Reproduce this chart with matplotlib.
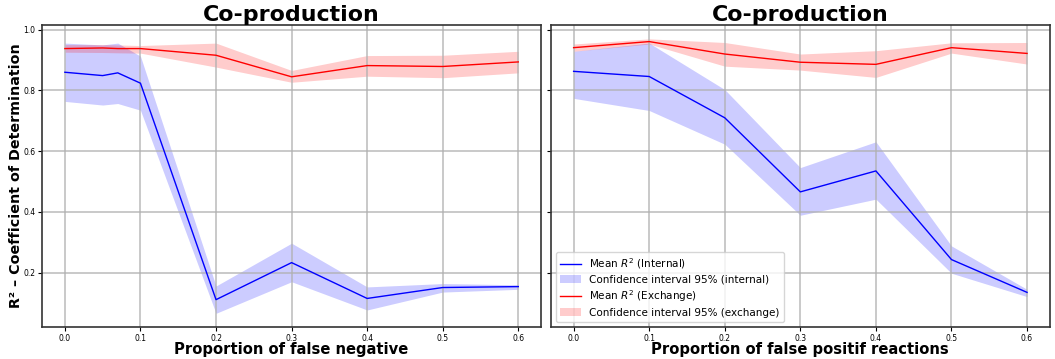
import numpy as np
import matplotlib.pyplot as plt

# left panel: false negatives
x_fn = [0.0, 0.05, 0.07, 0.1, 0.2, 0.3, 0.4, 0.5, 0.6]
int_fn_mean = [0.860, 0.849, 0.858, 0.824, 0.111, 0.233, 0.115, 0.151, 0.154]
int_fn_low = [0.764, 0.752, 0.757, 0.735, 0.066, 0.170, 0.077, 0.136, 0.145]
int_fn_high = [0.956, 0.950, 0.956, 0.913, 0.156, 0.297, 0.153, 0.164, 0.160]
exc_fn_mean = [0.938, 0.940, 0.938, 0.938, 0.916, 0.845, 0.882, 0.879, 0.894]
exc_fn_low = [0.926, 0.925, 0.924, 0.923, 0.877, 0.827, 0.847, 0.842, 0.858]
exc_fn_high = [0.951, 0.951, 0.950, 0.948, 0.956, 0.866, 0.915, 0.916, 0.929]

# right panel: false positive reactions
x_fp = [0.0, 0.1, 0.2, 0.3, 0.4, 0.5, 0.6]
int_fp_mean = [0.863, 0.846, 0.710, 0.466, 0.535, 0.243, 0.135]
int_fp_low = [0.774, 0.734, 0.623, 0.389, 0.442, 0.198, 0.121]
int_fp_high = [0.929, 0.956, 0.803, 0.546, 0.631, 0.288, 0.145]
exc_fp_mean = [0.941, 0.961, 0.920, 0.893, 0.886, 0.941, 0.922]
exc_fp_low = [0.929, 0.953, 0.880, 0.867, 0.843, 0.923, 0.887]
exc_fp_high = [0.953, 0.970, 0.958, 0.920, 0.931, 0.957, 0.958]

panels = [
    (x_fn, int_fn_mean, int_fn_low, int_fn_high, exc_fn_mean, exc_fn_low, exc_fn_high,
     'Proportion of false negative'),
    (x_fp, int_fp_mean, int_fp_low, int_fp_high, exc_fp_mean, exc_fp_low, exc_fp_high,
     'Proportion of false positif reactions'),
]

fig, axes = plt.subplots(1, 2, figsize=(10.55, 3.59), dpi=100, sharey=True)
fig.subplots_adjust(left=0.040, right=0.995, top=0.930, bottom=0.089, wspace=0.02)

for ax, (x, im, il, ih, em, el, eh, xlab) in zip(axes, panels):
    ax.plot(x, im, color='blue', lw=1, label='Mean $R^2$ (Internal)')
    ax.fill_between(x, il, ih, color='blue', alpha=0.2, lw=0,
                    label='Confidence interval 95% (internal)')
    ax.plot(x, em, color='red', lw=1, label='Mean $R^2$ (Exchange)')
    ax.fill_between(x, el, eh, color='red', alpha=0.2, lw=0,
                    label='Confidence interval 95% (exchange)')
    ax.set_title('Co-production', fontsize=15.9, fontweight='bold', pad=2)
    ax.set_xlabel(xlab, fontsize=10.6, fontweight='bold', labelpad=-1)
    ax.set_xticks([0.0, 0.1, 0.2, 0.3, 0.4, 0.5, 0.6])
    ax.tick_params(labelsize=5.5, pad=2, length=3)
    ax.grid(True, color='#b0b0b0', lw=1.2, alpha=0.8)
    for s in ax.spines.values():
        s.set_linewidth(1.2)
        s.set_color('#333333')

axes[0].set_ylabel('R² – Coefficient of Determination', fontsize=10.3,
                   fontweight='bold', labelpad=0)
axes[1].legend(loc='lower left', fontsize=7.5, labelspacing=0.35)

plt.savefig('out.png', dpi=100)
